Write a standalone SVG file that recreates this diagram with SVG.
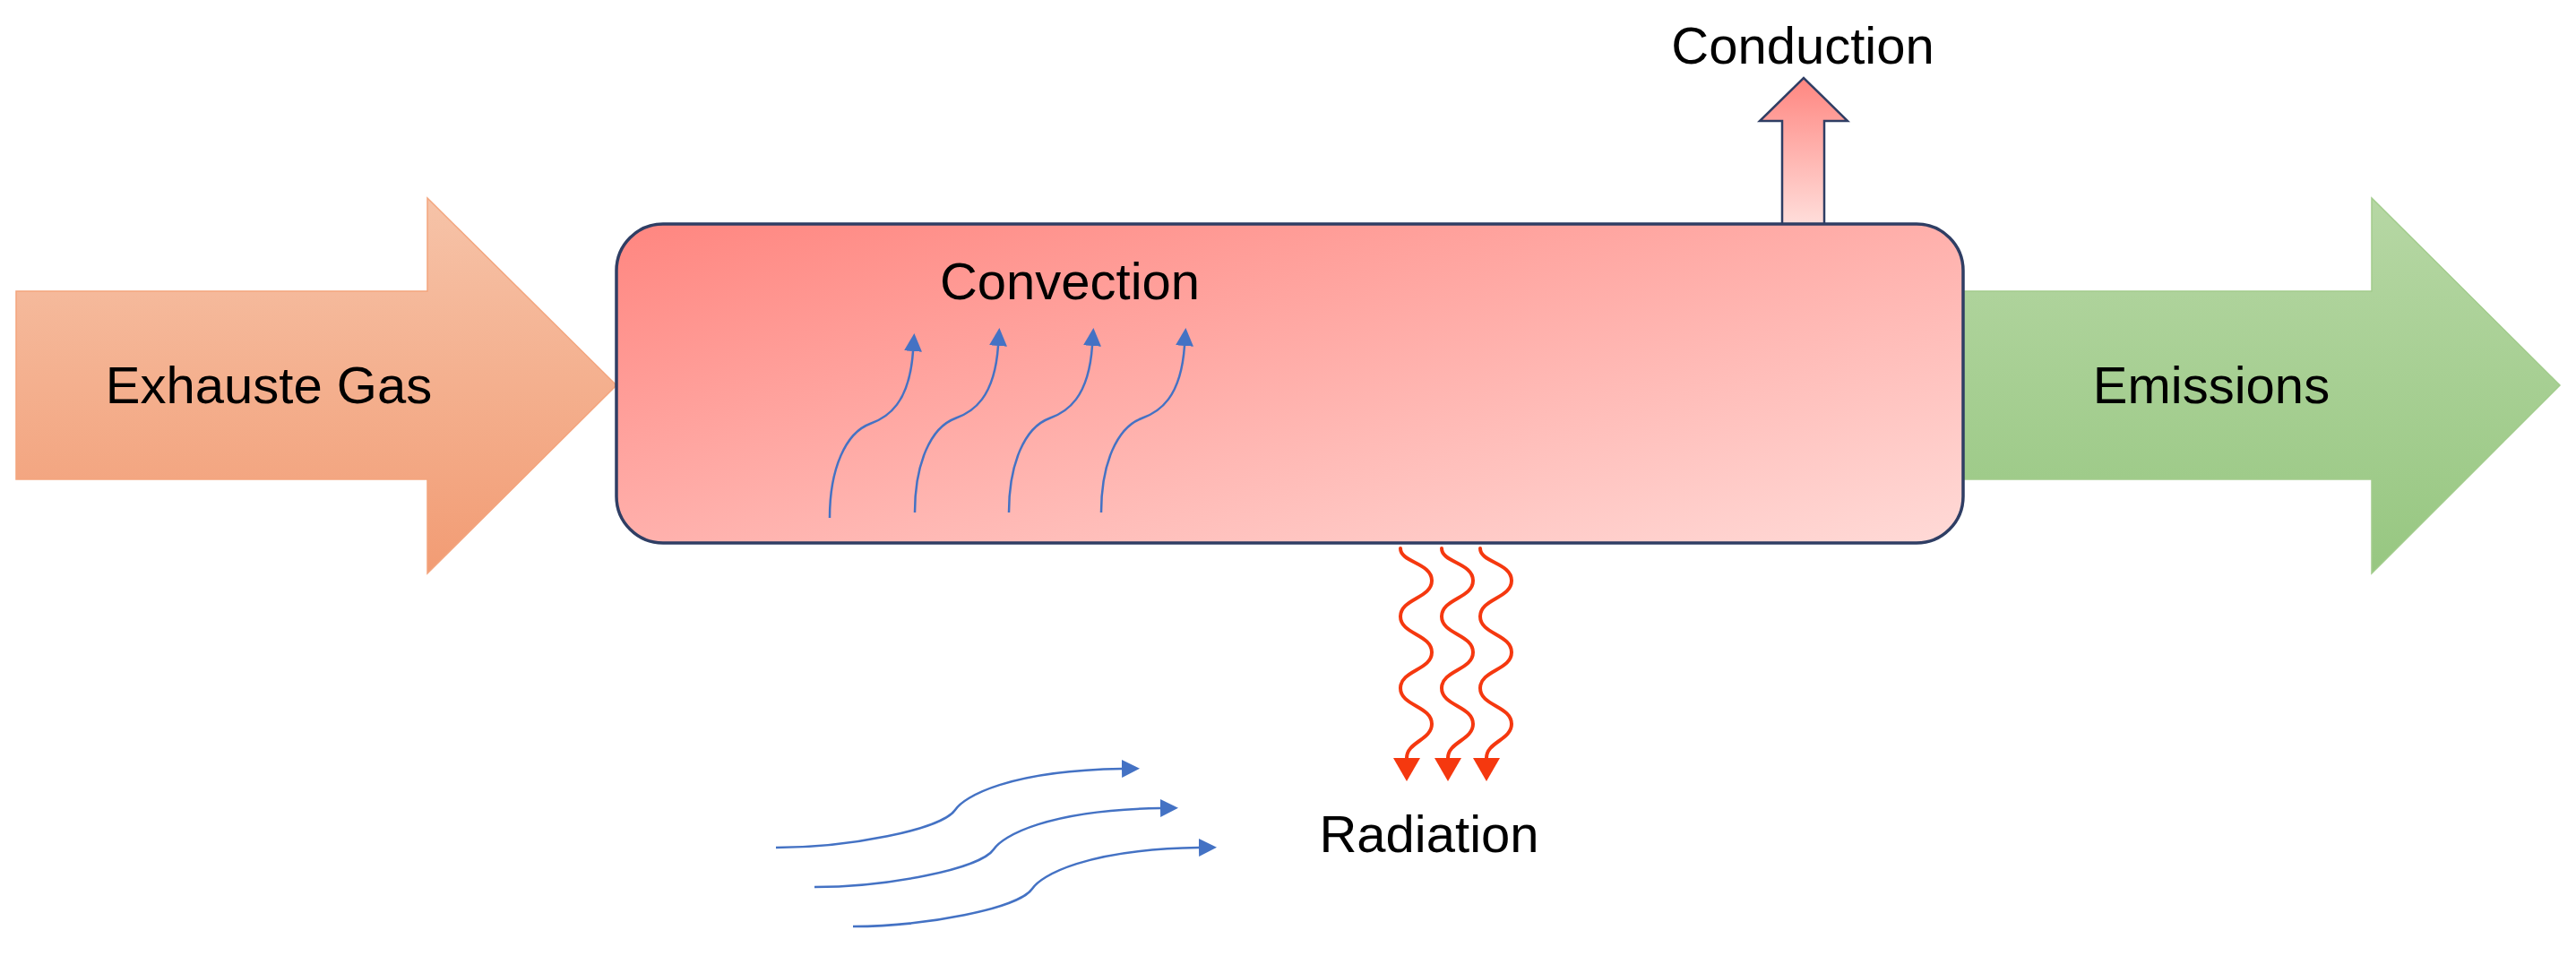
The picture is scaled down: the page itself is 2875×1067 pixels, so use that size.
<svg xmlns="http://www.w3.org/2000/svg" width="2875" height="1067" viewBox="0 0 2875 1067">
  <style>
    .lbl { font-family: "Liberation Sans", Arial, sans-serif; font-size: 58px; fill: #000; text-anchor: middle; }
    .blue { fill: none; stroke: #4472c4; stroke-width: 2.5; }
    .wave { fill: none; stroke: #f5380f; stroke-width: 4; stroke-linecap: round; }
  </style>
  <defs>
    <linearGradient id="gOrange" x1="0" y1="0" x2="0" y2="1">
      <stop offset="0" stop-color="#f6c3a8"/>
      <stop offset="1" stop-color="#f29c74"/>
    </linearGradient>
    <linearGradient id="gGreen" x1="0" y1="0" x2="0" y2="1">
      <stop offset="0" stop-color="#b6d7a4"/>
      <stop offset="1" stop-color="#97c781"/>
    </linearGradient>
    <linearGradient id="gRect" x1="0" y1="0" x2="1" y2="1">
      <stop offset="0" stop-color="#ff8680"/>
      <stop offset="1" stop-color="#ffdad7"/>
    </linearGradient>
    <linearGradient id="gCond" x1="0" y1="0" x2="0" y2="1">
      <stop offset="0" stop-color="#ff8680"/>
      <stop offset="1" stop-color="#ffdedb"/>
    </linearGradient>
    <marker id="mBlue" viewBox="0 0 20 20" refX="0" refY="10" markerWidth="20" markerHeight="20" markerUnits="userSpaceOnUse" orient="auto">
      <path d="M0 0 L20 10 L0 20 Z" fill="#4472c4"/>
    </marker>
    <marker id="mRed" viewBox="0 0 26 30" refX="0" refY="15" markerWidth="26" markerHeight="30" markerUnits="userSpaceOnUse" orient="auto">
      <path d="M0 0 L26 15 L0 30 Z" fill="#f5380f"/>
    </marker>
  </defs>
  <rect width="2875" height="1067" fill="#ffffff"/>

  <g id="exhaust-gas">
    <polygon points="18,325 477,325 477,221 688,430 477,640 477,535 18,535" fill="url(#gOrange)" stroke="#f3a57e" stroke-width="1.5"/>
    <text class="lbl" x="300" y="450">Exhauste Gas</text>
  </g>

  <g id="emissions">
    <polygon points="2180,325 2647,325 2647,221 2857,430 2647,640 2647,535 2180,535" fill="url(#gGreen)" stroke="#a2cc8c" stroke-width="1.5"/>
    <text class="lbl" x="2468" y="450">Emissions</text>
  </g>

  <g id="conduction">
    <polygon points="1989,251 1989,135 1964,135 2013,87 2062,135 2036,135 2036,251" fill="url(#gCond)" stroke="#2f3e64" stroke-width="2.5" stroke-linejoin="miter"/>
    <text class="lbl" x="2012" y="71">Conduction</text>
  </g>

  <g id="exhaust-pipe">
    <rect x="688" y="250" width="1503" height="356" rx="52" ry="52" fill="url(#gRect)" stroke="#2f3e64" stroke-width="3.5"/>
    <text class="lbl" x="1194" y="334">Convection</text>
  </g>

  <g id="connectors">
    <g id="convection-arrows">
      <path class="blue" marker-end="url(#mBlue)" transform="translate(926,578)" d="M0 0 C0 -55 18 -95 45 -105 C65 -112 89 -128 93 -186"/>
      <path class="blue" marker-end="url(#mBlue)" transform="translate(1021,572)" d="M0 0 C0 -55 18 -95 45 -105 C65 -112 89 -128 93 -186"/>
      <path class="blue" marker-end="url(#mBlue)" transform="translate(1126,572)" d="M0 0 C0 -55 18 -95 45 -105 C65 -112 89 -128 93 -186"/>
      <path class="blue" marker-end="url(#mBlue)" transform="translate(1229,572)" d="M0 0 C0 -55 18 -95 45 -105 C65 -112 89 -128 93 -186"/>
    </g>
    <g id="radiation-waves">
      <path class="wave" marker-end="url(#mRed)" d="M1563 612 C1563 628 1598 628 1598 648 C1598 668 1563 668 1563 688 C1563 708 1598 708 1598 728 C1598 748 1563 748 1563 768 C1563 788 1598 788 1598 808 C1598 826 1570 828 1570 846"/>
      <path class="wave" marker-end="url(#mRed)" transform="translate(46,0)" d="M1563 612 C1563 628 1598 628 1598 648 C1598 668 1563 668 1563 688 C1563 708 1598 708 1598 728 C1598 748 1563 748 1563 768 C1563 788 1598 788 1598 808 C1598 826 1570 828 1570 846"/>
      <path class="wave" marker-end="url(#mRed)" transform="translate(89,0)" d="M1563 612 C1563 628 1598 628 1598 648 C1598 668 1563 668 1563 688 C1563 708 1598 708 1598 728 C1598 748 1563 748 1563 768 C1563 788 1598 788 1598 808 C1598 826 1570 828 1570 846"/>
    </g>
    <g id="flow-arrows">
      <path class="blue" marker-end="url(#mBlue)" transform="translate(866,946)" d="M0 0 C80 0 185 -20 200 -42 C210 -57 260 -86 386 -88"/>
      <path class="blue" marker-end="url(#mBlue)" transform="translate(909,990)" d="M0 0 C80 0 185 -20 200 -42 C210 -57 260 -86 386 -88"/>
      <path class="blue" marker-end="url(#mBlue)" transform="translate(952,1034)" d="M0 0 C80 0 185 -20 200 -42 C210 -57 260 -86 386 -88"/>
    </g>
  </g>

  <g id="radiation">
    <text class="lbl" x="1595" y="951">Radiation</text>
  </g>
</svg>
